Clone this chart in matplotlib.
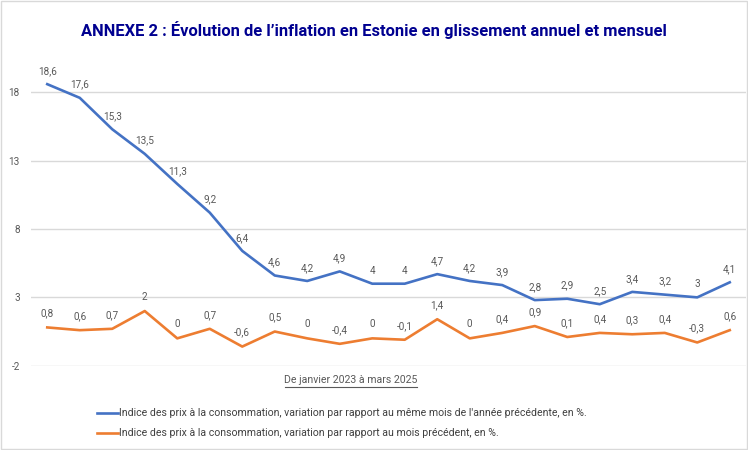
import numpy as np
from matplotlib import pyplot as plt
from matplotlib.patches import Rectangle

# données (janvier 2023 -> mars 2025)
glissement_annuel = [18.6, 17.6, 15.3, 13.5, 11.3, 9.2, 6.4, 4.6, 4.2, 4.9, 4, 4,
                     4.7, 4.2, 3.9, 2.8, 2.9, 2.5, 3.4, 3.2, 3, 4.1]
glissement_mensuel = [0.8, 0.6, 0.7, 2, 0, 0.7, -0.6, 0.5, 0, -0.4, 0, -0.1,
                      1.4, 0, 0.4, 0.9, 0.1, 0.4, 0.3, 0.4, -0.3, 0.6]
graduations = [-2, 3, 8, 13, 18]

titre = "ANNEXE 2 : Évolution de l’inflation en Estonie en glissement annuel et mensuel"
leg_annuel = "Indice des prix à la consommation, variation par rapport au même mois de l'année précédente, en %."
leg_mensuel = "Indice des prix à la consommation, variation par rapport au mois précédent, en %."

bleu = "#4472C4"
orange = "#ED7D31"
gris = "#595959"

plt.rcParams['font.family'] = ['Roboto', 'DejaVu Sans']

fig = plt.figure(figsize=(7.48, 4.5), dpi=100)
ax = fig.add_axes([31/748, 1-365.7/450, 715/748, 315.7/450])

x = np.arange(len(glissement_annuel))
ax.plot(x, glissement_annuel, color=bleu, lw=1.9, solid_joinstyle='round')
ax.plot(x, glissement_mensuel, color=orange, lw=1.9, solid_joinstyle='round')

def fmt(v):
    s = ("%g" % v).replace(".", ",")
    return s

for xi, v in zip(x, glissement_annuel):
    ax.annotate(fmt(v), (xi, v), xytext=(0, 9.5), textcoords='offset points',
                ha='center', va='center', fontsize=7.2, color=gris)
for xi, v in zip(x, glissement_mensuel):
    ax.annotate(fmt(v), (xi, v), xytext=(0, 10), textcoords='offset points',
                ha='center', va='center', fontsize=7.2, color=gris)

ax.set_xlim(-0.5, len(x) - 0.5)
ax.set_ylim(-2, 21.1)
ax.set_yticks(graduations)
ax.set_yticklabels([str(g) for g in graduations])
ax.set_xticks([])
ax.tick_params(axis='y', length=0, pad=8, labelsize=7.2, labelcolor=gris)
ax.grid(axis='y', color="#D9D9D9", lw=1)
ax.set_axisbelow(True)
for s in ax.spines.values():
    s.set_visible(False)

fig.text(373.5/748, 1-30/450, titre, ha='center', va='center', fontsize=11.9,
         fontweight='bold', color="#000090")

t = fig.text(351/748, 1-380/450, "De janvier 2023 à mars 2025", ha='center', va='center',
             fontsize=7.6, color=gris)
fig.add_artist(plt.Line2D([285/748, 417/748], [1-387/450, 1-387/450], color=gris, lw=0.8))

# légende
for yy, col, txt in [(412.7, bleu, leg_annuel), (432.7, orange, leg_mensuel)]:
    fig.add_artist(plt.Line2D([97/748, 118/748], [1-yy/450, 1-yy/450], color=col, lw=1.9))
    fig.text(119/748, 1-yy/450, txt, ha='left', va='center', fontsize=7.6, color="#404040")

# cadre
fig.add_artist(Rectangle((0.001, 0.002), 0.997, 0.996, transform=fig.transFigure,
                         fill=False, edgecolor="#D9D9D9", lw=1))

fig.savefig("out.png", dpi=100)
